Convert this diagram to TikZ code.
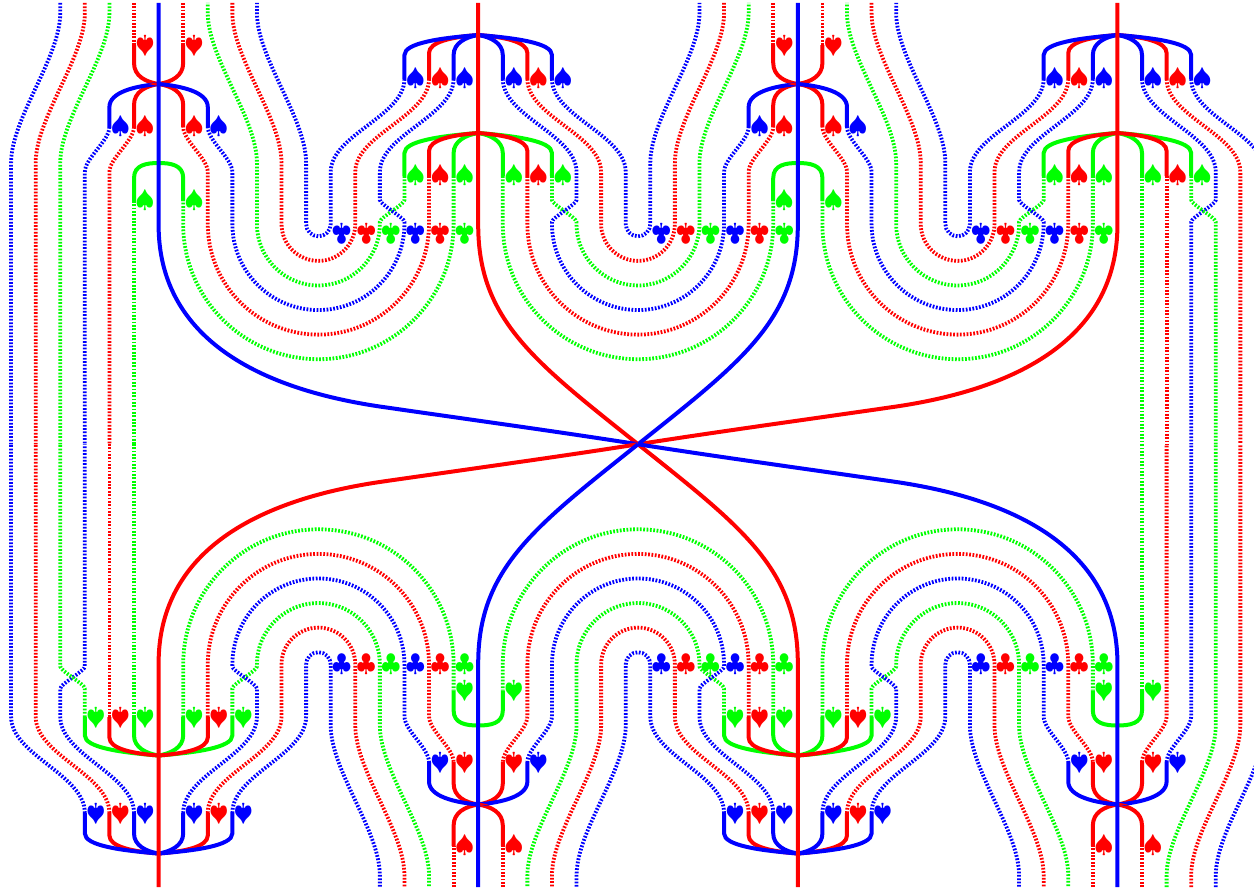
\documentclass[tikz,border=0pt]{standalone}
\tikzset{
  thread/.style={line width=3.8pt,dash pattern=on 1.75pt off 1.6pt},
  band/.style={line width=4pt},
  suit/.style={inner sep=0pt,scale=2.45,transform shape},
}
% S-bend between two verticals
\newcommand\sbend[5]{.. controls ({#1},{#2+#5*((#4)-(#2))}) and ({#3},{#4-#5*((#4)-(#2))}) .. ({#3},{#4})}
% lower half circle (x unit is 24.585 y units)
\newcommand\semi[3]{.. controls ({#1},{#3+6.789*abs((#2)-(#1))}) and ({(#1)+.22385*((#2)-(#1))},{#3+12.2925*abs((#2)-(#1))}) .. ({((#1)+(#2))/2},{#3+12.2925*abs((#2)-(#1))}) .. controls ({(#2)-.22385*((#2)-(#1))},{#3+12.2925*abs((#2)-(#1))}) and ({#2},{#3+6.789*abs((#2)-(#1))}) .. ({#2},{#3})}
\newcommand\kk[1]{(\wc+\ws*#1)}
\def\ymid{444.25}
\newcommand\wing[2]{\def\wc{#1}\def\ws{#2}%
  \draw[thread,blue] ({\kk{3}},\yb) \sbend{\kk{3}}{\yb}{\kk{6}}{172}{.4} -- ({\kk{6}},224) \semi{\kk{6}}{\kk{7}}{224} -- ({\kk{7}},163) \sbend{\kk{7}}{163}{\kk{9}}{13}{.3} -- ({\kk{9}},\ytop);
  \draw[thread,red] ({\kk{2}},\yb) \sbend{\kk{2}}{\yb}{\kk{5}}{172}{.4} -- ({\kk{5}},224) \semi{\kk{5}}{\kk{8}}{224} -- ({\kk{8}},163) \sbend{\kk{8}}{163}{\kk{10}}{13}{.3} -- ({\kk{10}},\ytop);
  \draw[thread,green] ({\kk{3}},\yc) -- ({\kk{3}},200) \sbend{\kk{3}}{200}{\kk{4}}{222}{.2} -- ({\kk{4}},224) \semi{\kk{4}}{\kk{9}}{224} -- ({\kk{9}},163) \sbend{\kk{9}}{163}{\kk{11}}{13}{.3} -- ({\kk{11}},\ytop);
  \draw[thread,blue] ({\kk{1}},\yb) \sbend{\kk{1}}{\yb}{\kk{4}}{172}{.4} -- ({\kk{4}},200) \sbend{\kk{4}}{200}{\kk{3}}{222}{.2} -- ({\kk{3}},224) \semi{\kk{3}}{\kk{10}}{224} -- ({\kk{10}},172) \sbend{\kk{10}}{172}{\kk{11}}{\yd}{.3};
  \draw[thread,red] ({\kk{2}},\yc) -- ({\kk{2}},224) \semi{\kk{2}}{\kk{11}}{224} -- ({\kk{11}},172) \sbend{\kk{11}}{172}{\kk{12}}{\yd}{.3};
  \draw[thread,green] ({\kk{1}},\yc) -- ({\kk{1}},224) \semi{\kk{1}}{\kk{12}}{224} -- ({\kk{12}},\ye);
}
% fan at a column of the second kind
\newcommand\bfan[2]{\def\wc{#1}\def\ws{#2}%
  \draw[band,green] (\wc,133) .. controls ({\kk{.5}},135) and ({\kk{1}},141) .. ({\kk{1}},153) -- ({\kk{1}},\yc);
  \draw[band,green] (\wc,133) .. controls ({\kk{1.55}},136) and ({\kk{3}},141) .. ({\kk{3}},153) -- ({\kk{3}},\yc);
  \draw[band,red] (\wc,133) .. controls ({\kk{1.1}},135) and ({\kk{2}},140) .. ({\kk{2}},151) -- ({\kk{2}},\yc);
  \draw[band,red] (\wc,35) .. controls ({\kk{1.1}},37) and ({\kk{2}},42) .. ({\kk{2}},53) -- ({\kk{2}},\yb);
  \draw[band,blue] (\wc,35) .. controls ({\kk{.5}},37) and ({\kk{1}},43) .. ({\kk{1}},55) -- ({\kk{1}},\yb);
  \draw[band,blue] (\wc,35) .. controls ({\kk{1.55}},38) and ({\kk{3}},43) .. ({\kk{3}},55) -- ({\kk{3}},\yb);
}
% fan at a column of the first kind
\newcommand\afan[2]{\def\wc{#1}\def\ws{#2}%
  \draw[thread,red] ({\kk{1}},\ytop) -- ({\kk{1}},\yf);
  \draw[band,red] ({\kk{1}},\yf) -- ({\kk{1}},63) .. controls ({\kk{1}},76) and ({\kk{.53}},82) .. (\wc,84) .. controls ({\kk{.53}},86) and ({\kk{1}},92) .. ({\kk{1}},105) -- ({\kk{1}},\yd);
  \draw[band,blue] (\wc,84) .. controls ({\kk{.94}},86) and ({\kk{2}},92) .. ({\kk{2}},107) -- ({\kk{2}},\yd);
  \draw[band,green] (\wc,163) .. controls ({\kk{.5}},163) and ({\kk{1}},165) .. ({\kk{1}},178) -- ({\kk{1}},\ye);
}
\newcommand\halfpart{%
  \wing{13}{-1}\wing{13}{1}\wing{39}{-1}
  % open side of the last column
  \draw[thread,blue] (40,\yb) \sbend{40}{\yb}{43}{172}{.4} -- (43,200) \sbend{43}{200}{42}{222}{.2} -- (42,\ymid);
  \draw[thread,red] (41,\yb) \sbend{41}{\yb}{44}{172}{.4} -- (44,\ymid);
  \draw[thread,blue] (42,\yb) \sbend{42}{\yb}{45}{172}{.4} -- (45,\ymid);
  \draw[thread,green] (42,\yc) -- (42,200) \sbend{42}{200}{43}{222}{.2} -- (43,\ymid);
  \draw[thread,red] (41,\yc) -- (41,\ymid);
  \draw[thread,green] (40,\yc) -- (40,\ymid);
  % open side of the first column
  \draw[thread,blue] (-4,\ytop) -- (-4,13) \sbend{-4}{13}{-6}{163}{.3} -- (-6,\ymid);
  \draw[thread,red] (-3,\ytop) -- (-3,13) \sbend{-3}{13}{-5}{163}{.3} -- (-5,\ymid);
  \draw[thread,green] (-2,\ytop) -- (-2,13) \sbend{-2}{13}{-4}{163}{.3} -- (-4,\ymid);
  \draw[thread,blue] (-2,\yd) \sbend{-2}{\yd}{-3}{172}{.3} -- (-3,\ymid);
  \draw[thread,red] (-1,\yd) \sbend{-1}{\yd}{-2}{172}{.3} -- (-2,\ymid);
  \draw[thread,green] (-1,\ye) -- (-1,\ymid);
  \bfan{13}{-1}\bfan{13}{1}\bfan{39}{-1}\bfan{39}{1}
  \afan{0}{-1}\afan{0}{1}\afan{26}{-1}\afan{26}{1}
  % strong strands
  \draw[band,red] (13,\ytop) -- (13,225) .. controls (13,320) and (15.31,362) .. (19.5,\ymid);
  \draw[band,red] (39,\ytop) -- (39,225) .. controls (39,320) and (36.10,385) .. (29.87,407) .. controls (25.81,421.4) and (22.67,432) .. (19.5,\ymid);
  \draw[band,blue] (26,\ytop) -- (26,225) .. controls (26,320) and (23.69,362) .. (19.5,\ymid);
  \draw[band,blue] (0,\ytop) -- (0,225) .. controls (0,320) and (2.90,385) .. (9.13,407) .. controls (13.19,421.4) and (16.33,432) .. (19.5,\ymid);
}
\begin{document}
\begin{tikzpicture}[x=24.585pt,y=-1pt]
  \useasboundingbox (-6.451,0) rectangle (44.555,891);
  \clip (-6.451,0) rectangle (44.555,891);
  % upper half
  \def\ytop{3}\def\yb{79}\def\yc{176}\def\yd{127}\def\ye{201}\def\yf{45}
  \halfpart
  % lower half: the upper half turned round the crossing
  \begin{scope}[rotate around={180:(19.5,\ymid)}]
    \def\ytop{1.5}\def\yb{75.5}\def\yc{171.5}\def\yd{126.5}\def\ye{198}\def\yf{42.5}
    \halfpart
  \end{scope}
  % suits, upper half
  \foreach \c in {13,39}{
    \foreach \o/\col in {-3/blue,-2/red,-1/blue,1/blue,2/red,3/blue}
      \node[suit,text=\col] (sa\c\o) at ({\c+\o+.447},79) {$\spadesuit$};
    \foreach \o/\col in {-3/green,-2/red,-1/green,1/green,2/red,3/green}
      \node[suit,text=\col] (sb\c\o) at ({\c+\o+.447},176) {$\spadesuit$};
  }
  \foreach \c in {0,26}{
    \foreach \o in {-1,1}{
      \node[suit,text=red,rotate=180] (sc\c\o) at ({\c+\o+.447},45.7) {$\spadesuit$};
      \node[suit,text=green] (sd\c\o) at ({\c+\o+.447},201) {$\spadesuit$};
    }
    \foreach \o/\col in {-2/blue,-1/red,1/red,2/blue}
      \node[suit,text=\col] (se\c\o) at ({\c+\o+.447},127) {$\spadesuit$};
  }
  % suits, lower half
  \foreach \c in {0,26}{
    \foreach \o/\col in {-3/blue,-2/red,-1/blue,1/blue,2/red,3/blue}
      \node[suit,text=\col,rotate=180] (sf\c\o) at ({\c+\o+.447},813) {$\spadesuit$};
    \foreach \o/\col in {-3/green,-2/red,-1/green,1/green,2/red,3/green}
      \node[suit,text=\col,rotate=180] (sg\c\o) at ({\c+\o+.447},717) {$\spadesuit$};
  }
  \foreach \c in {13,39}{
    \foreach \o in {-1,1}{
      \node[suit,text=red] (sh\c\o) at ({\c+\o+.447},846) {$\spadesuit$};
      \node[suit,text=green,rotate=180] (si\c\o) at ({\c+\o+.447},690) {$\spadesuit$};
    }
    \foreach \o/\col in {-2/blue,-1/red,1/red,2/blue}
      \node[suit,text=\col,rotate=180] (sj\c\o) at ({\c+\o+.447},762) {$\spadesuit$};
  }
  % clubs
  \foreach \a in {6.5,19.5,32.5}
    \foreach \r/\col in {.5/blue,1.5/red,2.5/green,3.5/blue,4.5/red,5.5/green}{
      \node[suit,text=\col,rotate=180] (ct\a\r) at ({\a+\r+.447},233) {$\clubsuit$};
      \node[suit,text=\col] (cb\a\r) at ({\a+\r+.447},665) {$\clubsuit$};
    }
\end{tikzpicture}
\end{document}
